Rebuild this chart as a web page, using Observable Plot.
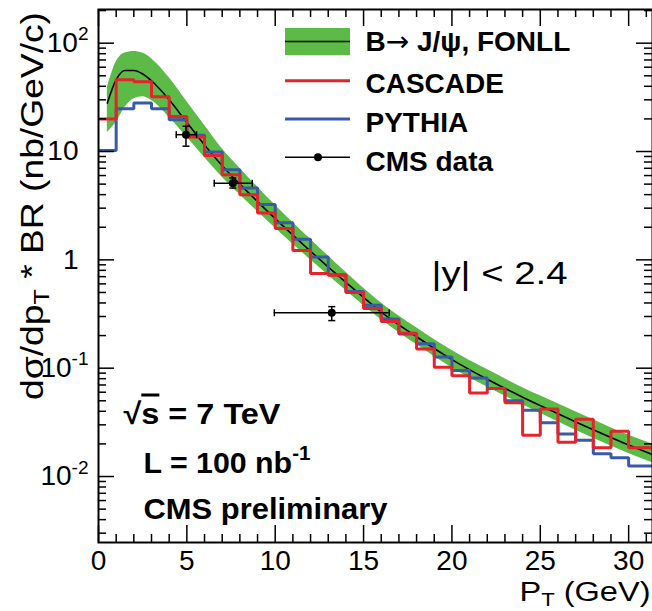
<!DOCTYPE html>
<html><head><meta charset="utf-8">
<script src="https://cdn.jsdelivr.net/npm/d3@7"></script>
<script src="https://cdn.jsdelivr.net/npm/@observablehq/plot@0.6"></script>
<style>
html,body{margin:0;padding:0;background:#fff;overflow:hidden;}
#chart svg{display:block;}
</style></head><body><div id="chart"></div>
<script>
// ---------------- data ----------------
const binEdges = [0,1,2,3,4,5,6,7,8,9,10,11,12,13,14,15,16,17,18,19,20,21,22,23,24,25,26,27,28,29,30,31,32];
const cascade = [20,46,44,32,21,13.6,9.2,6.1,4.0,2.7,1.95,1.22,0.75,0.72,0.50,0.355,0.27,0.21,0.15,0.102,0.085,0.059,0.065,0.048,0.024,0.042,0.0207,0.0337,0.0184,0.0262,0.0184,0.0184];
const pythia = [10.2,24.8,28,24.8,19.6,14.1,9.9,6.8,4.6,3.25,2.2,1.55,1.06,0.73,0.51,0.38,0.285,0.207,0.168,0.127,0.095,0.081,0.065,0.05,0.041,0.0314,0.0247,0.0216,0.0162,0.0149,0.0125,0.0125];

const fonllPt      = [0.5,1,1.5,2,2.5,3,4,5,6,7,8,9,10,12,14,16,18,20,22,24,26,28,30,31.4];
const fonllCentral = [28,46,56,56,52,45,30,18.5,11.5,7.4,5.0,3.45,2.4,1.2,0.62,0.33,0.195,0.12,0.079,0.054,0.038,0.027,0.0195,0.0158];
const fonllUpper   = [39,67,81,84,81,72,48,29,17.5,10.6,7.0,4.7,3.2,1.55,0.77,0.4,0.236,0.146,0.097,0.066,0.047,0.0335,0.024,0.0198];
const fonllLower   = [15,18.6,25.6,30.6,32,29.6,20.7,13.6,8.8,5.8,4.0,2.8,1.97,1.0,0.52,0.28,0.165,0.101,0.067,0.046,0.032,0.0225,0.0163,0.0133];

const cmsPt     = [4.95, 7.6, 13.2];
const cmsVal    = [14.3, 5.1, 0.325];
const cmsPtLow  = [4.4, 6.55, 9.95];
const cmsPtHigh = [5.55, 8.7, 16.45];
const cmsValLow = [11.2, 4.6, 0.275];
const cmsValHigh= [17.1, 5.7, 0.37];

const xMajorTicks = [0,5,10,15,20,25,30];
const xTickLabels = ["0","5","10","15","20","25","30"];
const yPlainTicks = [1,10];
const yPlainLabels = ["1","10"];
const ySupTicks = [0.01,0.1,100];
const ySupLabels = ["10^{-2}","10^{-1}","10^{2}"];
const legendLabels = ["B@{\u2192} J/\u03c8, FONLL","CASCADE","PYTHIA","CMS data"];

// ---------------- styling ----------------
const GREEN = "#5cba47", RED = "#e5232b", BLUE = "#3a5aa9";
const FONT = "'Liberation Sans', Arial, Helvetica, sans-serif";
const W = 652, H = 611, mL = 98, mR = 0, mT = 9, mB = 69;
const frameW = W - mL - mR, frameH = H - mT - mB;
const yMajorAll = [0.01,0.1,1,10,100];
const xMinor = d3.range(0, 32, 1).filter(v => v % 5 !== 0);
const yMinor = [];
for (const dec of [0.001,0.01,0.1,1,10,100]) for (let k = 2; k <= 9; k++) { const v = k*dec; if (v > 0.00246 && v < 204) yMinor.push(+v.toPrecision(3)); }

// tables built from arrays
const histRows = (vals) => binEdges.map((e, i) => ({x: e, y: vals[Math.min(i, vals.length - 1)]}));
const cascadeRows = histRows(cascade);
const pythiaRows = histRows(pythia);
const fonll = fonllPt.map((x, i) => ({x, c: fonllCentral[i], u: fonllUpper[i], l: fonllLower[i]}));
const cms = cmsPt.map((x, i) => ({x, y: cmsVal[i], x1: cmsPtLow[i], x2: cmsPtHigh[i], y1: cmsValLow[i], y2: cmsValHigh[i]}));

const capV = {draw(ctx, size){ const h = Math.sqrt(size/Math.PI); ctx.moveTo(0,-h); ctx.lineTo(0,h); }};
const capH = {draw(ctx, size){ const h = Math.sqrt(size/Math.PI); ctx.moveTo(-h,0); ctx.lineTo(h,0); }};

const ann = (txt, dx, dy, o = {}) => Plot.text([txt], {text: d => d, frameAnchor: "top-left", dx, dy, textAnchor: "start", lineAnchor: "bottom", fill: "black", ...o});

const chart = Plot.plot({
  width: W, height: H,
  marginLeft: mL, marginRight: mR, marginTop: mT, marginBottom: mB,
  style: {fontFamily: FONT, background: "white", overflow: "visible"},
  x: {domain: [0, 31.35], axis: null},
  y: {type: "log", domain: [0.00246, 204.6], axis: null},
  marks: [
    // FONLL band + central
    Plot.areaY(fonll, {x: "x", y1: "l", y2: "u", curve: "monotone-x", fill: GREEN, clip: true}),
    Plot.line(fonll, {x: "x", y: "c", curve: "monotone-x", stroke: "black", strokeWidth: 1.6, clip: true}),
    // histograms
    Plot.line(pythiaRows, {x: "x", y: "y", curve: "step-after", stroke: BLUE, strokeWidth: 3, strokeLinejoin: "miter", clip: true}),
    Plot.line(cascadeRows, {x: "x", y: "y", curve: "step-after", stroke: RED, strokeWidth: 3, strokeLinejoin: "miter", clip: true}),
    // CMS data
    Plot.ruleY(cms, {y: "y", x1: "x1", x2: "x2", stroke: "black", strokeWidth: 1.5}),
    Plot.ruleX(cms, {x: "x", y1: "y1", y2: "y2", stroke: "black", strokeWidth: 1.5}),
    Plot.dot(cms, {x: "x1", y: "y", r: 3.5, symbol: capV, stroke: "black", strokeWidth: 1.5}),
    Plot.dot(cms, {x: "x2", y: "y", r: 3.5, symbol: capV, stroke: "black", strokeWidth: 1.5}),
    Plot.dot(cms, {x: "x", y: "y1", r: 3.5, symbol: capH, stroke: "black", strokeWidth: 1.5}),
    Plot.dot(cms, {x: "x", y: "y2", r: 3.5, symbol: capH, stroke: "black", strokeWidth: 1.5}),
    Plot.dot(cms, {x: "x", y: "y", r: 4, fill: "black", stroke: "none"}),
    // ticks (ROOT style, inward, all four sides)
    Plot.ruleX(xMajorTicks, {x: d => d, insetTop: frameH - 17, stroke: "black", strokeWidth: 1.5}),
    Plot.ruleX(xMinor, {x: d => d, insetTop: frameH - 8, stroke: "black", strokeWidth: 1.5}),
    Plot.ruleX(xMajorTicks, {x: d => d, insetBottom: frameH - 17, stroke: "black", strokeWidth: 1.5}),
    Plot.ruleX(xMinor, {x: d => d, insetBottom: frameH - 8, stroke: "black", strokeWidth: 1.5}),
    Plot.ruleY(yMajorAll, {y: d => d, insetRight: frameW - 16, stroke: "black", strokeWidth: 1.5}),
    Plot.ruleY(yMinor, {y: d => d, insetRight: frameW - 8, stroke: "black", strokeWidth: 1.5}),
    Plot.ruleY(yMajorAll, {y: d => d, insetLeft: frameW - 16, stroke: "black", strokeWidth: 1.5}),
    Plot.ruleY(yMinor, {y: d => d, insetLeft: frameW - 8, stroke: "black", strokeWidth: 1.5}),
    Plot.frame({stroke: "black", strokeWidth: 2}),
    // tick labels
    Plot.text(xMajorTicks, {x: d => d, text: (d, i) => xTickLabels[i], frameAnchor: "bottom", dy: 27, lineAnchor: "bottom", fontSize: 28, fill: "black"}),
    Plot.text(yPlainTicks, {y: d => d, text: (d, i) => yPlainLabels[i], frameAnchor: "left", dx: -20, textAnchor: "end", lineAnchor: "middle", fontSize: 28, fill: "black"}),
    Plot.text(ySupTicks, {y: d => d, text: (d, i) => ySupLabels[i], frameAnchor: "left", dx: -10, textAnchor: "end", lineAnchor: "middle", fontSize: 28, fill: "black"}),
    // axis titles
    Plot.text(["d\u03c3/dp_{T} * BR (nb/GeV/c)"], {text: d => d, frameAnchor: "left", dx: -56, dy: -70, rotate: -90, textAnchor: "middle", lineAnchor: "bottom", fontSize: 32, fill: "black"}),
    Plot.text(["P_{T} (GeV)"], {text: d => d, frameAnchor: "bottom-left", dx: 421, dy: 58, textAnchor: "start", lineAnchor: "bottom", fontSize: 27, fill: "black"}),
    // legend labels
    ann(legendLabels[0], 267, 41, {fontSize: 28, fontWeight: "bold"}),
    ann(legendLabels[1], 267, 83, {fontSize: 28, fontWeight: "bold"}),
    ann(legendLabels[2], 267, 122, {fontSize: 28, fontWeight: "bold"}),
    ann(legendLabels[3], 267, 161, {fontSize: 28, fontWeight: "bold"}),
    // annotations
    ann("|y| < 2.4", 333, 274, {fontSize: 31}),
    ann("\u221a~{s} = 7 TeV", 25, 414, {fontSize: 30, fontWeight: "bold"}),
    ann("L = 100 nb^{-1}", 45, 463, {fontSize: 30, fontWeight: "bold"}),
    ann("CMS preliminary", 45, 509, {fontSize: 30, fontWeight: "bold"})
  ]
});

// ------------- rich text (sub/superscripts, overline, symbol font) -------------
const fitWidths = new Map([
  ["d\u03c3/dp_{T} * BR (nb/GeV/c)", 388],
  ["P_{T} (GeV)", 131],
  ["|y| < 2.4", 136],
  ["\u221a~{s} = 7 TeV", 157],
  ["L = 100 nb^{-1}", 167],
  ["CMS preliminary", 244]
]);
document.getElementById("chart").appendChild(chart);
chart.querySelectorAll("text").forEach(t => {
  const s = t.textContent;
  const fit = fitWidths.get(s);
  if (/[\^_~@]\{/.test(s)) {
    const fs = parseFloat(getComputedStyle(t).fontSize) || 28;
    const parts = []; const re = /([\^_~@])\{([^}]*)\}/g; let last = 0, m;
    while ((m = re.exec(s))) {
      if (m.index > last) parts.push({t: s.slice(last, m.index), k: "n"});
      parts.push({t: m[2], k: m[1]});
      last = re.lastIndex;
    }
    if (last < s.length) parts.push({t: s.slice(last), k: "n"});
    t.textContent = "";
    let cur = 0;
    for (const p of parts) {
      const ts = document.createElementNS("http://www.w3.org/2000/svg", "tspan");
      const target = p.k === "^" ? -0.42 * fs : p.k === "_" ? 0.2 * fs : 0;
      ts.setAttribute("dy", target - cur); cur = target;
      if (p.k === "^" || p.k === "_") ts.setAttribute("font-size", 0.68 * fs);
      if (p.k === "~") ts.setAttribute("text-decoration", "overline");
      if (p.k === "@") { ts.setAttribute("font-family", "'DejaVu Sans', sans-serif"); ts.setAttribute("font-weight", "normal"); }
      ts.textContent = p.t;
      t.appendChild(ts);
    }
  }
  if (fit) { t.setAttribute("textLength", fit); t.setAttribute("lengthAdjust", "spacingAndGlyphs"); }
});

// ------------- legend swatches (NDC-like, as in ROOT TLegend) -------------
const lg = d3.select(chart).append("g");
lg.append("rect").attr("x", 285).attr("y", 28).attr("width", 65).attr("height", 27).attr("fill", GREEN);
lg.append("line").attr("x1", 285).attr("x2", 350).attr("y1", 41.5).attr("y2", 41.5).attr("stroke", "black").attr("stroke-width", 1.6);
lg.append("line").attr("x1", 285).attr("x2", 350).attr("y1", 80.7).attr("y2", 80.7).attr("stroke", RED).attr("stroke-width", 3);
lg.append("line").attr("x1", 285).attr("x2", 350).attr("y1", 119).attr("y2", 119).attr("stroke", BLUE).attr("stroke-width", 3);
lg.append("line").attr("x1", 285).attr("x2", 350).attr("y1", 157.3).attr("y2", 157.3).attr("stroke", "black").attr("stroke-width", 1.6);
lg.append("circle").attr("cx", 318).attr("cy", 157.3).attr("r", 4).attr("fill", "black");
</script>
</body></html>
